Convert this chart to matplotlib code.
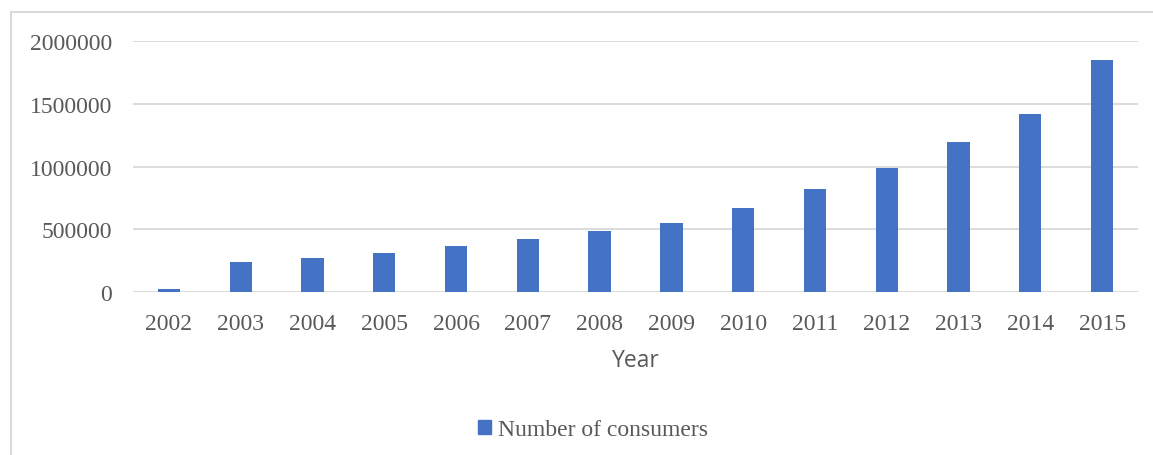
import matplotlib
matplotlib.use("Agg")
import matplotlib.pyplot as plt
from matplotlib.patches import Rectangle, Patch

# data
years = ["2002", "2003", "2004", "2005", "2006", "2007", "2008",
         "2009", "2010", "2011", "2012", "2013", "2014", "2015"]
consumers = [20000, 236000, 272000, 309000, 365000, 420000, 484000,
             550000, 669000, 817000, 992000, 1198000, 1418000, 1849000]
yticks = [0, 500000, 1000000, 1500000, 2000000]

bar_color = "#4472C4"
grid_color = "#d9d9d9"
text_color = "#595959"
serif = ["Liberation Serif", "DejaVu Serif"]

fig = plt.figure(figsize=(11.53, 4.56), dpi=100)
ax = fig.add_axes([133 / 1153, 1 - 293 / 456, (1138 - 133) / 1153, (293 - 42) / 456])

x = list(range(len(years)))
ax.bar(x, consumers, width=0.31, color=bar_color, zorder=3)

ax.set_xlim(-0.5, len(years) - 0.5)
ax.set_ylim(0, 2000000)
ax.set_yticks(yticks)
ax.set_yticklabels([str(v) for v in yticks])
ax.set_xticks(x)
ax.set_xticklabels(years)
ax.grid(axis="y", color=grid_color, lw=1.3, zorder=0)
ax.set_axisbelow(True)
for s in ax.spines.values():
    s.set_visible(False)
ax.tick_params(axis="both", length=0, labelsize=17, labelcolor=text_color)
ax.tick_params(axis="x", pad=15)
ax.tick_params(axis="y", pad=15)
for lab in ax.get_xticklabels() + ax.get_yticklabels():
    lab.set_family(serif)

ax.set_xlabel("Year", fontsize=16.5, color=text_color, family="Open Sans", labelpad=10)

# legend below the plot
fig.legend(handles=[Patch(color=bar_color, label="Number of consumers")],
           loc="center", bbox_to_anchor=(593 / 1153, 1 - 431 / 456),
           frameon=False, handlelength=0.55, handleheight=0.55, handletextpad=0.3,
           prop={"family": serif, "size": 17}, labelcolor=text_color)

# light frame around the chart area
fig.patches.append(Rectangle((11 / 1153, -0.1), 1.1, 1 - 13 / 456 + 0.1,
                             transform=fig.transFigure, fill=False,
                             edgecolor=grid_color, lw=1.5))

fig.savefig("out.png", dpi=100)
